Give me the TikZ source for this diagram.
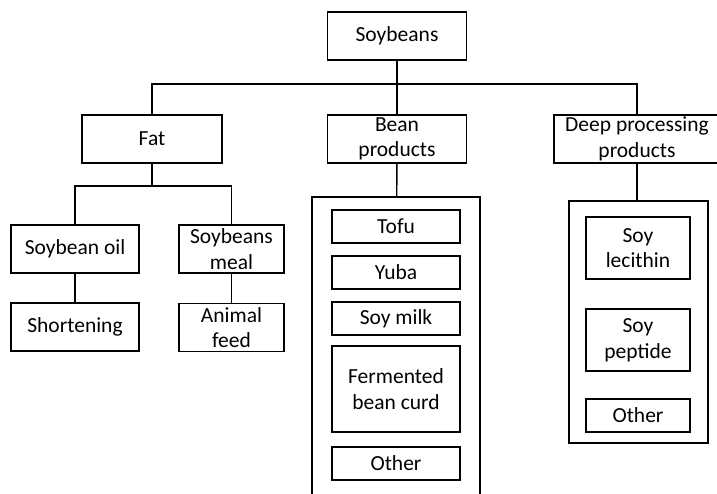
\documentclass[tikz,border=0pt]{standalone}
\usepackage{fontspec}
\setmainfont{Carlito}
\usepackage{tikz}
\usetikzlibrary{positioning}
\newcommand{\itemfont}{\fontsize{21.5}{25.5}\selectfont}
\tikzset{
    boxnode/.style = {draw, rectangle, line width=1.4pt, inner sep=0pt, align=center,
      font=\itemfont, minimum height=48pt},
    smallboxnode/.style = {boxnode, minimum width=128pt, minimum height=33pt},
    framenode/.style = {draw, rectangle, line width=1.4pt, inner sep=0pt},
    connect/.style = {black, line width=1.4pt}
}

\begin{document}
\begin{tikzpicture}[x=1pt, y=-1pt, node distance=0pt]
    \clip (0,0) rectangle (717,493);
    % top level
    \node [boxnode, name=Soy, minimum width=139pt] at (397,36) {Soybeans};
    \node [boxnode, name=Bean, below of=Soy, yshift=-103pt, minimum width=139pt] {Bean\\products};
    \node [boxnode, name=Fat, below of=Bean, xshift=-245pt, minimum width=140pt] {Fat};
    \node [boxnode, name=Deep, below of=Bean, xshift=240pt, minimum width=166pt] {Deep processing\\products};
    \coordinate (bus) at (Soy |- 0,84);
    \draw [connect] (Soy) -- (Bean);
    \draw [connect] (Fat) |- (bus) -| (Deep);

    % fat branch
    \node [boxnode, name=Oil, below of=Fat, xshift=-77pt, yshift=-110pt, minimum width=128pt] {Soybean oil};
    \node [boxnode, name=Meal, below of=Fat, xshift=79.5pt, yshift=-110pt, minimum width=105pt] {Soybeans\\meal};
    \node [boxnode, name=Short, below of=Oil, yshift=-78pt, minimum width=128pt] {Shortening};
    \node [boxnode, name=Feed, below of=Meal, yshift=-78.5pt, minimum width=105pt] {Animal\\feed};
    \coordinate (fatbus) at (Fat |- 0,186);
    \draw [connect] (Fat) -- (fatbus);
    \draw [connect] (Oil) |- (fatbus) -| (Meal);
    \draw [connect] (Oil) -- (Short);
    \draw [connect] (Meal) -- (Feed);

    % bean products
    \node [framenode, name=BeanBox, below of=Bean, xshift=-1pt, yshift=-224.5pt,
      minimum width=168pt, minimum height=333pt] {};
    \draw [connect] (Bean) -- (BeanBox);
    \node [smallboxnode, name=Tofu, below of=Bean, xshift=-1pt, yshift=-87.5pt] {Tofu};
    \node [smallboxnode, name=Yuba, below of=Tofu, yshift=-46pt] {Yuba};
    \node [smallboxnode, name=Milk, below of=Yuba, yshift=-46pt] {Soy milk};
    \node [smallboxnode, name=Curd, below of=Milk, yshift=-70.5pt, minimum height=86pt] {Fermented\\bean curd};
    \node [smallboxnode, name=BeanOther, below of=Curd, yshift=-74.5pt] {Other};

    % deep processing
    \node [framenode, name=DeepBox, below of=Deep, xshift=1.5pt, yshift=-183pt,
      minimum width=139pt, minimum height=242pt] {};
    \draw [connect] (Deep) -- (Deep |- DeepBox.north);
    \node [smallboxnode, name=Lecithin, below of=Deep, xshift=1pt, yshift=-109pt,
      minimum width=104pt, minimum height=62pt] {Soy\\lecithin};
    \node [smallboxnode, name=Peptide, below of=Lecithin, yshift=-92pt,
      minimum width=104pt, minimum height=62pt] {Soy\\peptide};
    \node [smallboxnode, name=DeepOther, below of=Peptide, yshift=-75.5pt, minimum width=104pt] {Other};
\end{tikzpicture}
\end{document}
